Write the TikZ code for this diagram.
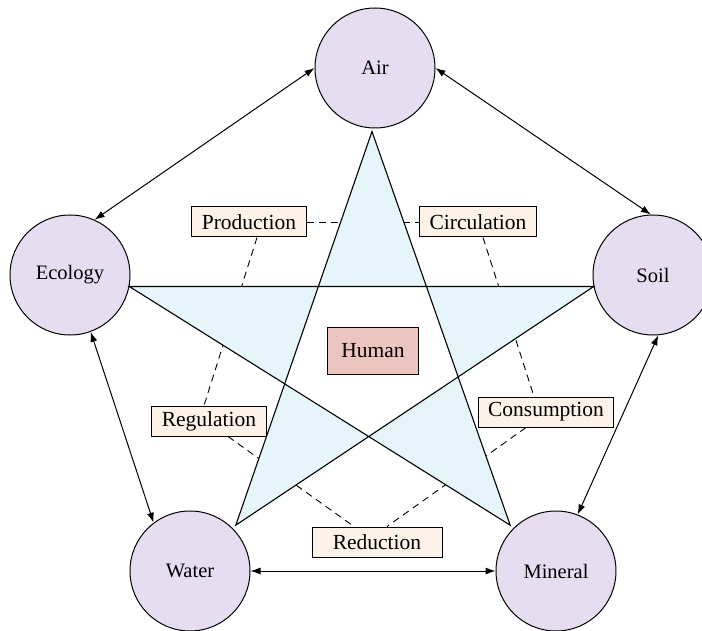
\documentclass[tikz,border=0pt]{standalone}
\usepackage{fontspec}
\setmainfont{Liberation Serif}
\usetikzlibrary{arrows.meta}

\definecolor{elemfill}{HTML}{E6DEF0}
\definecolor{starfill}{HTML}{E6F5FA}
\definecolor{humanfill}{HTML}{EBC5C0}
\definecolor{tagfill}{HTML}{FDF2E8}

\begin{document}
\begin{tikzpicture}[x=1pt,y=-1pt,
	elem/.style={draw,circle,fill=elemfill,minimum size=120pt,inner sep=0pt,line width=1pt,font=\fontsize{20.5}{24}\selectfont},
	tag/.style={draw,fill=tagfill,line width=1pt,minimum height=30pt,inner xsep=10pt,inner ysep=0pt,font=\fontsize{21.5}{25}\selectfont},
	link/.style={line width=1pt,{Latex[length=10pt,width=7pt]}-{Latex[length=10pt,width=7pt]}},
	tie/.style={line width=0.9pt,dash pattern=on 7pt off 5pt}]
\clip (0,0) rectangle (702,631);

\foreach \name/\x/\y in {Air/375/68, Ecology/70/275, Soil/653/275, Water/190/571, Mineral/556/571}
	{
	\node[elem] (\name) at (\x,\y) {\name};
	}

\node[tag] (Production) at (249,222) {Production};
\node[tag] (Circulation) at (478,222) {Circulation};
\node[tag] (Regulation) at (209,421) {Regulation};
\node[tag] (Consumption) at (546,412) {Consumption};
\node[tag,minimum width=130pt] (Reduction) at (377,542) {Reduction};

% dashed ring, partly hidden by the star
\draw[tie] (Production) -- (Circulation);
\draw[tie] ([xshift=8pt]Production.south) -- ([xshift=-5pt]Regulation.north);
\draw[tie] ([xshift=5pt]Circulation.south) -- ([xshift=-12pt]Consumption.north);
\draw[tie] ([xshift=19pt]Regulation.south) -- ([xshift=-23pt]Reduction.north);
\draw[tie] ([xshift=-20pt]Consumption.south) -- ([xshift=10pt]Reduction.north);

\draw[line width=1.1pt,fill=starfill,even odd rule] ([shift={(-3pt,-3pt)}]Air.270) -- ([shift={(3pt,3pt)}]Water.45)
	-- (Soil.191) -- (Ecology.-11) -- ([shift={(-3pt,3pt)}]Mineral.135) -- cycle;

\node[draw,fill=humanfill,line width=1pt,minimum height=46pt,inner xsep=14pt,font=\fontsize{21.5}{25}\selectfont] (Human) at (373,351) {Human};

\draw[link] (Air.180) -- (Ecology.66);
\draw[link] (Air.0) -- (Soil.92);
\draw[link] (Ecology.-70) -- (Water.127);
\draw[link] (Soil.-85) -- (Mineral.69);
\draw[link] (Water) -- (Mineral);
\end{tikzpicture}
\end{document}
